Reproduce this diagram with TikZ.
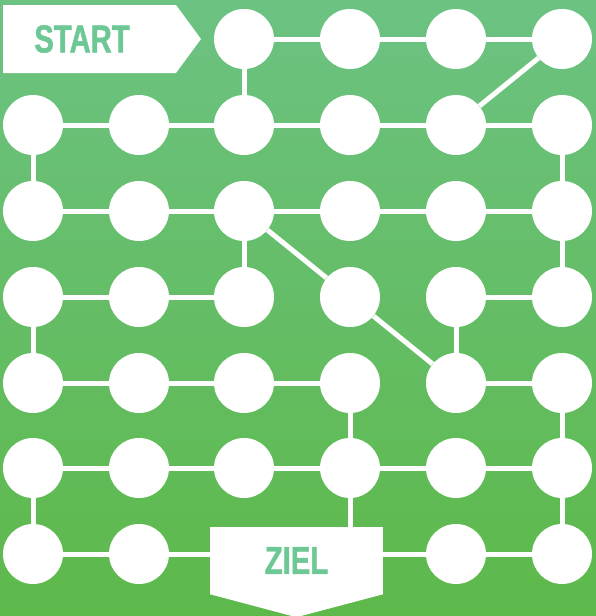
\documentclass[tikz,border=0pt]{standalone}
\usepackage{fontspec}
\usepackage{tikz}
\usetikzlibrary{calc}
\newfontfamily\gamefont[FakeStretch=0.75, BoldFeatures={FakeBold=1.2}]{Liberation Sans}
\definecolor{bgtop}{RGB}{108,194,130}
\definecolor{bgbot}{RGB}{93,185,74}
\definecolor{taggreen}{RGB}{110,200,150}

\tikzset{
  spot/.style={circle, fill=white, minimum size=60pt, inner sep=0pt},
  link/.style={draw=white, line width=5pt},
  tag/.style={text=taggreen, font=\gamefont\bfseries\fontsize{39}{39}\selectfont}
}

\begin{document}
\begin{tikzpicture}[x=1pt, y=-1pt]
  \shade[top color=bgtop, bottom color=bgbot] (0,0) rectangle (596,616);
  \useasboundingbox (0,0) rectangle (596,616);

  % fields
  \foreach \r/\y in {1/125, 2/211, 3/297, 4/383, 5/468} {
    \foreach \k/\x in {0/33, 1/139, 2/244, 3/350, 4/456, 5/562} {
      \node[spot] (p\r\k) at (\x,\y) {};
    }
  }
  \foreach \k/\x in {2/244, 3/350, 4/456, 5/562} {
    \node[spot] (p0\k) at (\x,39) {};
  }
  \foreach \k/\x in {0/33, 1/139, 4/456, 5/562} {
    \node[spot] (p6\k) at (\x,554) {};
  }

  % start and goal
  \fill[white] (3,5) -- (176,5) -- (201,39) -- (176,73) -- (3,73) -- cycle;
  \node[tag] (start) at (82,39) {START};
  \node[tag, fill=white, minimum width=173pt, minimum height=67pt, inner sep=0pt] (ziel) at (296.5,560.5) {ZIEL};
  \fill[white] (ziel.south west) -- ($(ziel.south)+(0,23)$) -- (ziel.south east) -- cycle;

  % paths
  \foreach \a/\b in {p02/p03, p03/p04, p04/p05,
      p10/p11, p11/p12, p12/p13, p13/p14, p14/p15,
      p20/p21, p21/p22, p22/p23, p23/p24, p24/p25,
      p30/p31, p31/p32, p34/p35,
      p40/p41, p41/p42, p42/p43, p44/p45,
      p50/p51, p51/p52, p52/p53, p53/p54, p54/p55,
      p60/p61, p64/p65,
      p02/p12, p10/p20, p15/p25, p22/p32, p25/p35, p30/p40,
      p34/p44, p43/p53, p45/p55, p50/p60, p55/p65,
      p05/p14, p22/p33, p33/p44} {
    \draw[link] (\a) -- (\b);
  }
  \draw[link] (p61) -- (p61 -| ziel.west);
  \draw[link] (ziel.east |- p64) -- (p64);
  \draw[link] (p53) -- (p53 |- ziel.north);
\end{tikzpicture}
\end{document}
